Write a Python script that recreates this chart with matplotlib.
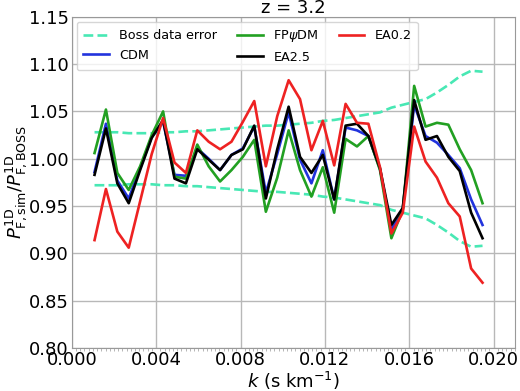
import matplotlib
matplotlib.use("Agg")
import matplotlib.pyplot as plt
from matplotlib.ticker import MultipleLocator

k = [0.00108, 0.00162, 0.00216, 0.00270, 0.00324, 0.00379, 0.00433, 0.00487,
     0.00541, 0.00595, 0.00649, 0.00703, 0.00757, 0.00811, 0.00865, 0.00920,
     0.00974, 0.01028, 0.01082, 0.01136, 0.01190, 0.01244, 0.01298, 0.01352,
     0.01406, 0.01461, 0.01515, 0.01569, 0.01623, 0.01677, 0.01731, 0.01785,
     0.01839, 0.01893, 0.01947]

# relative error of the BOSS data (drawn as 1 +/- err)
boss_err = [0.028, 0.028, 0.028, 0.027, 0.027, 0.027, 0.028, 0.028, 0.029,
            0.029, 0.030, 0.031, 0.032, 0.033, 0.034, 0.035, 0.035, 0.036,
            0.037, 0.038, 0.040, 0.041, 0.043, 0.045, 0.047, 0.049, 0.054,
            0.057, 0.060, 0.063, 0.070, 0.078, 0.087, 0.093, 0.092]

cdm = [0.986, 1.037, 0.977, 0.958, 0.990, 1.023, 1.039, 0.983, 0.982, 1.011,
       1.000, 0.988, 1.004, 1.011, 1.034, 0.964, 1.005, 1.049, 0.999, 0.974,
       1.009, 0.957, 1.033, 1.030, 1.024, 0.989, 0.925, 0.947, 1.057, 1.024,
       1.017, 1.004, 0.990, 0.957, 0.930]

fpsidm = [1.006, 1.052, 0.985, 0.967, 0.992, 1.025, 1.050, 0.981, 0.979, 1.015,
          0.992, 0.976, 0.988, 1.002, 1.020, 0.944, 0.980, 1.030, 0.988, 0.960,
          0.991, 0.943, 1.021, 1.013, 1.024, 0.988, 0.916, 0.946, 1.077, 1.034,
          1.038, 1.036, 1.010, 0.988, 0.953]

ea25 = [0.983, 1.032, 0.974, 0.953, 0.988, 1.022, 1.041, 0.979, 0.974, 1.010,
        0.999, 0.988, 1.004, 1.010, 1.035, 0.958, 1.010, 1.055, 1.002, 0.985,
        1.004, 0.957, 1.035, 1.037, 1.024, 0.990, 0.930, 0.948, 1.062, 1.020,
        1.024, 1.002, 0.987, 0.943, 0.916]

ea02 = [0.914, 0.968, 0.923, 0.906, 0.955, 1.005, 1.043, 0.996, 0.985, 1.030,
        1.018, 1.010, 1.018, 1.039, 1.061, 0.992, 1.045, 1.083, 1.063, 1.009,
        1.040, 0.993, 1.058, 1.038, 1.037, 0.991, 0.921, 0.943, 1.034, 0.997,
        0.980, 0.953, 0.939, 0.884, 0.869]

upper = [1 + e for e in boss_err]
lower = [1 - e for e in boss_err]

fig = plt.figure(figsize=(5.2, 3.91), dpi=100)
ax = fig.add_axes([0.138, 0.110, 0.852, 0.847])

lw = 1.9
ax.plot(k, upper, ls="--", color="#48e8b4", lw=lw, label="Boss data error")
ax.plot(k, lower, ls="--", color="#48e8b4", lw=lw)
ax.plot(k, cdm, color="#2233dd", lw=lw, label="CDM")
ax.plot(k, fpsidm, color="#22a022", lw=lw, label=r"FP$\psi$DM")
ax.plot(k, ea25, color="black", lw=lw, label="EA2.5")
ax.plot(k, ea02, color="#ee2222", lw=lw, label="EA0.2")

ax.set_xlim(0.0, 0.021)
ax.set_ylim(0.80, 1.15)
ax.xaxis.set_major_locator(MultipleLocator(0.004))
ax.xaxis.set_minor_locator(MultipleLocator(0.0002))
ax.yaxis.set_major_locator(MultipleLocator(0.05))
ax.xaxis.set_major_formatter(plt.FormatStrFormatter("%.3f"))
ax.yaxis.set_major_formatter(plt.FormatStrFormatter("%.2f"))

ax.grid(True, color="#b8b8b8", lw=1.0)
ax.set_axisbelow(True)
for s in ax.spines.values():
    s.set_color("#999999")
ax.tick_params(axis="both", which="major", length=0, pad=2, labelsize=13)
ax.tick_params(axis="x", which="minor", length=2, width=0.5, color="#999999")

ax.set_xlabel(r"$k$ (s km$^{-1}$)", fontsize=13, labelpad=1)
ax.set_ylabel(r"$P^{\rm 1D}_{\rm F,sim}/P^{\rm 1D}_{\rm F,BOSS}$", fontsize=13, labelpad=0)
ax.set_title("z = 3.2", fontsize=13, pad=3)

ax.legend(loc="upper left", ncol=3, fontsize=9.2, framealpha=0.8,
          edgecolor="#cccccc", borderaxespad=0.4, borderpad=0.5,
          columnspacing=1.6, handlelength=2.0, labelspacing=0.5)

fig.savefig("out.png", dpi=100)
